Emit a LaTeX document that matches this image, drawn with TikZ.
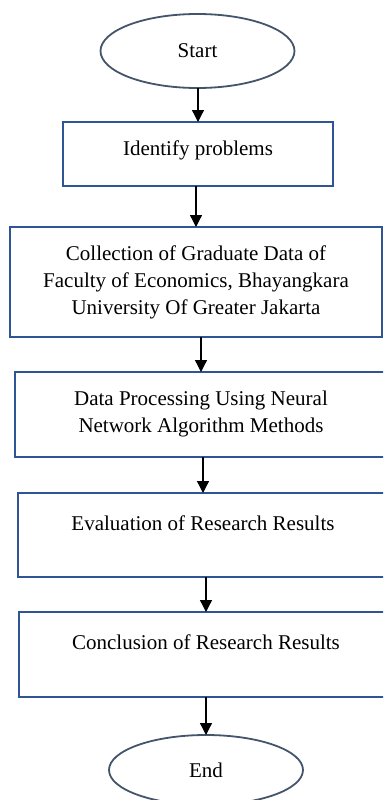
\documentclass[tikz,border=0pt]{standalone}
\usepackage{fontspec}
\setmainfont{Liberation Serif}
\usetikzlibrary{arrows.meta,positioning,shapes.geometric}

\definecolor{boxblue}{HTML}{2F5597}
\definecolor{slate}{HTML}{44546A}

\begin{document}
\begin{tikzpicture}[
  x=1pt,y=-1pt,
  every node/.style={font=\fontsize{21}{27}\selectfont},
  box/.style={
    draw=boxblue,
    line width=2pt,
    align=center,
    inner sep=0pt,
    outer sep=0pt,
    anchor=north
  },
  term/.style={
    ellipse,
    draw=slate,
    line width=1.8pt,
    minimum width=194pt,
    inner sep=0pt,
    outer sep=0pt
  },
  line/.style={-{Triangle[length=12pt,width=12pt]},line width=1.3pt}
]
\path[use as bounding box,clip] (0,0) rectangle (383,800);

\node[term,minimum height=74pt] (start) at (197.5,51) {Start};
\node[box,minimum width=270pt,text height=33pt,text depth=31pt]
  (idp) at (198,122) {Identify problems};
\node[box,minimum width=372pt,text height=87pt,text depth=23pt]
  (coll) at (196,227) {Collection of Graduate Data of\\Faculty of Economics, Bhayangkara\\University Of Greater Jakarta};
\node[box,minimum width=372pt,text height=60pt,text depth=25pt]
  (proc) at (201,372) {Data Processing Using Neural\\Network Algorithm Methods};
\node[box,minimum width=370pt,text height=37pt,text depth=47pt]
  (eval) at (203,493) {Evaluation of Research Results};
\node[box,minimum width=374pt,text height=37pt,text depth=48pt]
  (concl) at (206,612) {Conclusion of Research Results};
\node[term,minimum height=70pt] (end) at (206,770) {End};

\draw[line] (idp.north |- start.south) -- (idp.north);
\draw[line] (coll.north |- idp.south) -- (coll.north);
\draw[line] (proc.north |- coll.south) -- (proc.north);
\draw[line] (eval.north |- proc.south) -- (eval.north);
\draw[line] (concl.north |- eval.south) -- (concl.north);
\draw[line] (end.north |- concl.south) -- (end.north);
\end{tikzpicture}
\end{document}
